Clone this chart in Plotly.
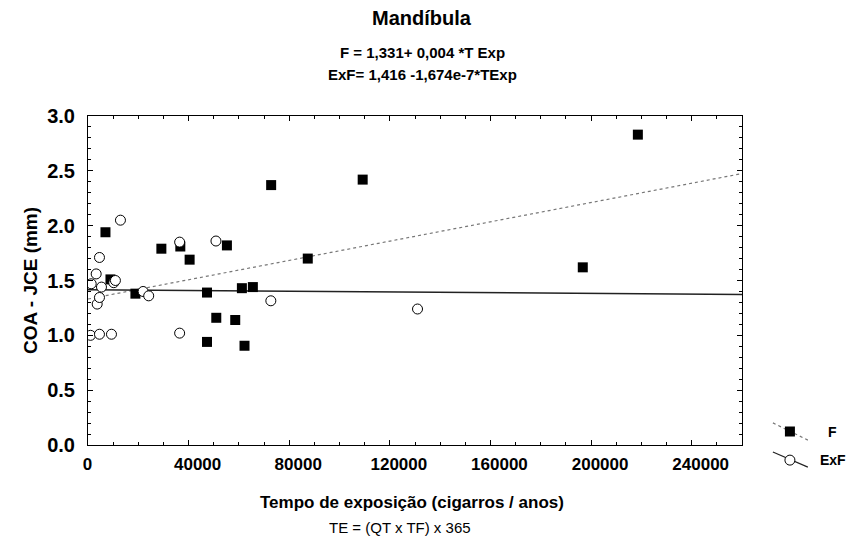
import plotly.graph_objects as go

# Fumantes (F): tempo de exposição x COA - JCE
f_tempo = [6940, 8930, 18850, 29170, 36700, 40400, 47300, 47300, 51000, 55230,
           58530, 61180, 62220, 65540, 72810, 87370, 109200, 196700, 218600]
f_coa = [1.94, 1.51, 1.38, 1.79, 1.81, 1.69, 1.39, 0.94, 1.16, 1.82,
         1.14, 1.43, 0.905, 1.44, 2.37, 1.70, 2.42, 1.62, 2.83]

# Ex-fumantes (ExF)
exf_tempo = [1000, 1270, 3250, 3650, 4560, 4560, 4560, 5360, 9330, 10240,
             10900, 12900, 21900, 24130, 36430, 36430, 50870, 72690, 131000]
exf_coa = [1.00, 1.47, 1.56, 1.285, 1.71, 1.345, 1.01, 1.44, 1.01, 1.48,
           1.50, 2.05, 1.40, 1.36, 1.85, 1.02, 1.86, 1.315, 1.24]

# Linear fits (intercept, slope per cigarro/ano)
f_fit = (1.331, 0.0044e-3)
exf_fit = (1.416, -1.674e-7)

x_ticks = [0, 40000, 80000, 120000, 160000, 200000, 240000]
x_tick_text = ["0\u00a0\u00a0\u00a0\u00a0"] + [str(v) for v in x_ticks[1:]]
y_ticks = [0.0, 0.5, 1.0, 1.5, 2.0, 2.5, 3.0]
x_max = 260000

W, H = 856, 540
FONT = "Liberation Sans, Arial, sans-serif"

fig = go.Figure()

fit_x = [0, x_max]
fig.add_trace(go.Scatter(
    x=fit_x, y=[f_fit[0] + f_fit[1] * v for v in fit_x], mode="lines",
    line=dict(color="#777777", width=1.2, dash="dot"), showlegend=False,
    hoverinfo="skip"))
fig.add_trace(go.Scatter(
    x=fit_x, y=[exf_fit[0] + exf_fit[1] * v for v in fit_x], mode="lines",
    line=dict(color="#222222", width=1.5), showlegend=False, hoverinfo="skip"))

fig.add_trace(go.Scatter(
    x=f_tempo, y=f_coa, mode="markers", name="F",
    marker=dict(symbol="square", size=10, color="black",
                line=dict(color="black", width=0)),
    showlegend=False))
fig.add_trace(go.Scatter(
    x=exf_tempo, y=exf_coa, mode="markers", name="ExF",
    marker=dict(symbol="circle", size=10, color="white",
                line=dict(color="black", width=1)),
    showlegend=False))

# Legend keys drawn in a small auxiliary axis to the right of the plot
key = dict(x0=0.15, x1=0.91, xm=0.52)
fig.add_trace(go.Scatter(
    x=[key["x0"], key["x1"]], y=[0.91, 0.59], mode="lines",
    line=dict(color="#777777", width=1.2, dash="dot"),
    xaxis="x2", yaxis="y2", showlegend=False, hoverinfo="skip"))
fig.add_trace(go.Scatter(
    x=[key["xm"]], y=[0.75], mode="markers",
    marker=dict(symbol="square", size=10, color="black"),
    xaxis="x2", yaxis="y2", showlegend=False, hoverinfo="skip"))
fig.add_trace(go.Scatter(
    x=[key["x0"], key["x1"]], y=[0.37, 0.09], mode="lines",
    line=dict(color="#222222", width=1.2),
    xaxis="x2", yaxis="y2", showlegend=False, hoverinfo="skip"))
fig.add_trace(go.Scatter(
    x=[key["xm"]], y=[0.22], mode="markers",
    marker=dict(symbol="circle", size=10, color="white",
                line=dict(color="black", width=1)),
    xaxis="x2", yaxis="y2", showlegend=False, hoverinfo="skip"))

px_l, px_r, px_t, px_b = 88, 742, 116, 445

fig.update_layout(
    width=W, height=H,
    margin=dict(l=0, r=0, t=0, b=0, pad=0, autoexpand=False),
    paper_bgcolor="white", plot_bgcolor="white",
    font=dict(family=FONT, color="black"),
    xaxis=dict(
        domain=[px_l / W, px_r / W], range=[0, x_max],
        tickvals=x_ticks, ticktext=x_tick_text,
        ticks="inside", ticklen=5, tickcolor="black", tickwidth=1,
        minor=dict(dtick=10000, ticks="inside", ticklen=3,
                   tickcolor="black"),
        showline=True, linecolor="black", linewidth=1, mirror="ticks",
        showgrid=False, zeroline=False, automargin=False,
        tickfont=dict(family=FONT, size=17, weight="bold"),
        ticklabelstandoff=4, ticklabelshift=9,
    ),
    yaxis=dict(
        domain=[(H - px_b) / H, (H - px_t) / H], range=[0, 3],
        tickvals=y_ticks, ticktext=[f"{v:.1f}" for v in y_ticks],
        ticks="inside", ticklen=5, tickcolor="black", tickwidth=1,
        minor=dict(dtick=0.1, ticks="inside", ticklen=3, tickcolor="black"),
        showline=True, linecolor="black", linewidth=1, mirror="ticks",
        showgrid=False, zeroline=False, automargin=False,
        tickfont=dict(family=FONT, size=20, weight="bold"),
        ticklabelstandoff=8,
    ),
    xaxis2=dict(domain=[766 / W, 812 / W], range=[0, 1], visible=False,
                anchor="y2"),
    yaxis2=dict(domain=[(H - 472) / H, (H - 418) / H], range=[0, 1],
                visible=False, anchor="x2"),
)


def label(text, x, y, size, bold=True, angle=0, xanchor="center"):
    fig.add_annotation(
        text=text, x=x / W, y=1 - y / H, xref="paper", yref="paper",
        xanchor=xanchor, yanchor="middle", showarrow=False, textangle=angle,
        font=dict(size=size, weight="bold" if bold else "normal"))


cx = 422
label("Mandíbula", cx, 18, 20)
label("F = 1,331+ 0,004 *T Exp", cx, 52, 15)
label("ExF= 1,416 -1,674e-7*TExp", cx, 75, 15)
label("COA - JCE (mm)", 30, 281, 19, angle=-90)
label("Tempo de exposição (cigarros / anos)", 412, 502, 17)
label("TE = (QT x TF) x 365", 400, 527, 15, bold=False)
label("F", 826, 432, 14, xanchor="left")
label("ExF", 818, 460, 14, xanchor="left")

fig.write_html("out.html")
